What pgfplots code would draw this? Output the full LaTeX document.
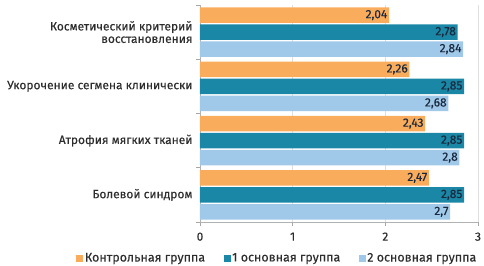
\documentclass[border=0pt]{standalone}
\usepackage{pgfplots}
\pgfplotsset{compat=1.18}
\usepackage{fontspec}
\setmainfont{Fira Sans}[FakeBold=0.3]
\definecolor{corange}{RGB}{248,172,92}
\definecolor{cteal}{RGB}{27,135,166}
\definecolor{clight}{RGB}{160,200,232}
\definecolor{ctext}{RGB}{45,45,45}
\definecolor{cval}{RGB}{25,40,60}
\begin{document}
\begin{tikzpicture}
\useasboundingbox (-200bp,-44bp) rectangle (284bp,222bp);
\begin{axis}[
  at={(0,0)}, anchor=south west,
  scale only axis, width=278bp, height=217bp,
  xbar, bar width=15.5bp,
  y dir=reverse,
  xmin=0, xmax=3, ymin=-0.5, ymax=3.5,
  xtick={0,1,2,3},
  ytick={0,1,2,3},
  yticklabels={{Косметический критерий\\восстановления},{Укорочение сегмена клинически},{Атрофия мягких тканей},{Болевой синдром}},
  yticklabel style={align=right, font=\fontsize{12}{12.5}\selectfont, text=ctext},
  xticklabel style={font=\fontsize{12}{12}\selectfont, text=ctext, yshift=-3bp},
  /pgf/number format/assume math mode=true,
  minor ytick={-0.5,0.5,1.5,2.5,3.5},
  major y tick style={draw=none},
  minor y tick style={gray!70, line width=0.8pt},
  minor tick length=4bp,
  major tick length=4bp,
  x tick style={gray!70, line width=0.8pt},
  tick align=outside,
  axis x line*=bottom, axis y line*=left,
  axis line style={gray!60, line width=0.8pt, -},
  xmajorgrids, grid style={gray!25, line width=0.6pt},
  nodes near coords,
  nodes near coords style={anchor=east, font=\fontsize{12}{12}\selectfont, text=cval, inner sep=1.5bp, /pgf/number format/use comma},
  legend columns=3,
  legend style={draw=none, fill=none, at={(1.0,-0.135)}, anchor=north east, font=\fontsize{12.5}{12.5}\selectfont, text=ctext, inner sep=0pt, nodes={inner sep=1.5bp}, /tikz/every even column/.append style={column sep=17bp}},
  legend image code/.code={\fill[#1] (0bp,-3.5bp) rectangle (7bp,3.5bp);},
]
\addplot[fill=corange, draw=none, bar shift=17bp] coordinates {(2.04,0) (2.26,1) (2.43,2) (2.47,3)};
\addplot[fill=cteal, draw=none, bar shift=0bp] coordinates {(2.78,0) (2.85,1) (2.85,2) (2.85,3)};
\addplot[fill=clight, draw=none, bar shift=-17bp] coordinates {(2.84,0) (2.68,1) (2.8,2) (2.7,3)};
\legend{Контрольная группа, 1 основная группа, 2 основная группа}
\end{axis}
\end{tikzpicture}
\end{document}
